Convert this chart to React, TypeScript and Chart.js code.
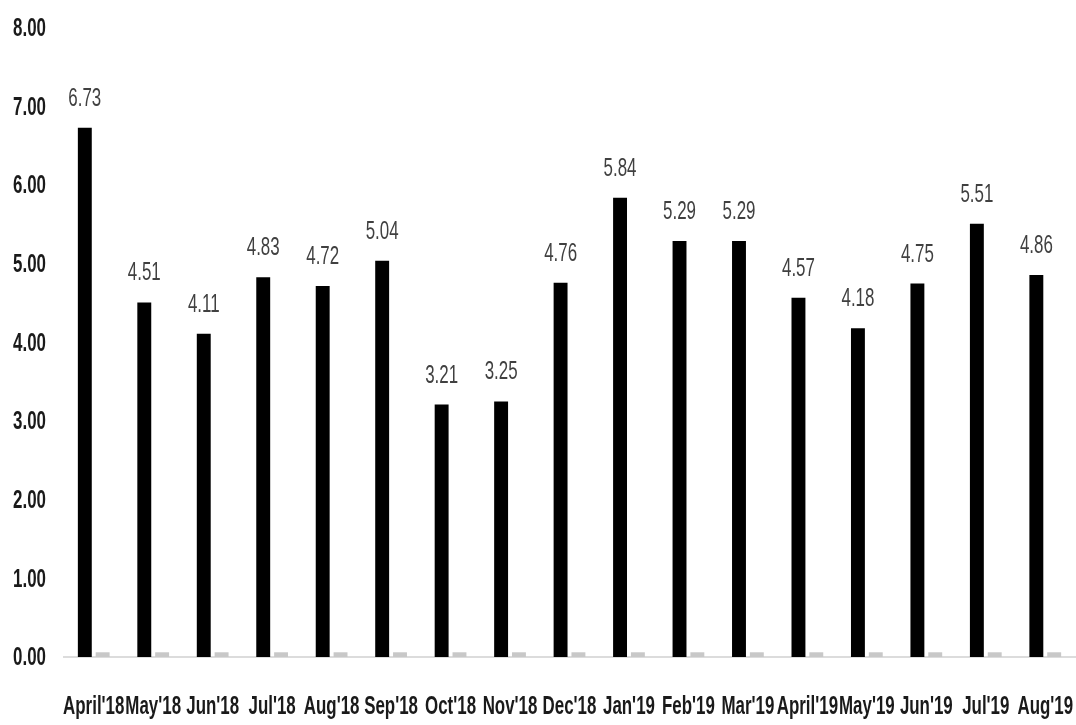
import React, { useEffect, useRef } from "react";
import { Chart, registerables } from "chart.js";

Chart.register(...registerables);

const categories = [
  "April'18", "May'18", "Jun'18", "Jul'18", "Aug'18", "Sep'18", "Oct'18", "Nov'18", "Dec'18",
  "Jan'19", "Feb'19", "Mar'19", "April'19", "May'19", "Jun'19", "Jul'19", "Aug'19",
];
const mainValues = [6.73, 4.51, 4.11, 4.83, 4.72, 5.04, 3.21, 3.25, 4.76, 5.84, 5.29, 5.29, 4.57, 4.18, 4.75, 5.51, 4.86];
const minorValues = [0.06, 0.06, 0.06, 0.06, 0.06, 0.06, 0.06, 0.06, 0.06, 0.06, 0.06, 0.06, 0.06, 0.06, 0.06, 0.06, 0.06];
const yTicks = [0, 1, 2, 3, 4, 5, 6, 7, 8];
const yTickLabels = ["0.00", "1.00", "2.00", "3.00", "4.00", "5.00", "6.00", "7.00", "8.00"];

const FONT = '"Liberation Sans", Arial, sans-serif';
const SQUEEZE = 0.65;

function squeezedText(ctx: any, text: string, x: number, y: number) {
  ctx.save();
  ctx.translate(x, y);
  ctx.scale(SQUEEZE, 1);
  ctx.fillText(text, 0, 0);
  ctx.restore();
}

const textPlugin = {
  id: "squeezedText",
  afterDatasetsDraw(chart: any) {
    const ctx = chart.ctx;
    const xs = chart.scales.x;
    const ys = chart.scales.y;
    ctx.save();
    // y axis labels
    ctx.font = `bold 26px ${FONT}`;
    ctx.fillStyle = "#1a1a1a";
    ctx.textAlign = "right";
    ctx.textBaseline = "middle";
    yTicks.forEach((v, i) => {
      squeezedText(ctx, yTickLabels[i], 46, ys.getPixelForValue(v) + 1);
    });
    // x axis labels
    ctx.textAlign = "center";
    ctx.textBaseline = "alphabetic";
    categories.forEach((c, i) => {
      squeezedText(ctx, c, xs.getPixelForValue(i), 714);
    });
    // data labels
    ctx.font = `normal 26px ${FONT}`;
    ctx.fillStyle = "#404040";
    const meta = chart.getDatasetMeta(0);
    meta.data.forEach((bar: any, i: number) => {
      squeezedText(ctx, mainValues[i].toFixed(2), bar.x, bar.y - 22);
    });
    ctx.restore();
  },
};

export default function App() {
  const ref = useRef<HTMLCanvasElement | null>(null);
  useEffect(() => {
    if (!ref.current) return;
    const chart = new Chart(ref.current, {
      type: "bar",
      data: {
        labels: categories,
        datasets: [
          {
            data: mainValues,
            backgroundColor: "#000000",
            categoryPercentage: 0.6,
            barPercentage: 0.78,
          },
          {
            data: minorValues,
            backgroundColor: "#c8c8c8",
            categoryPercentage: 0.6,
            barPercentage: 0.78,
          },
        ],
      },
      options: {
        animation: false,
        responsive: true,
        maintainAspectRatio: false,
        layout: { padding: { top: 28, right: 1, bottom: 68, left: 0 } },
        plugins: { legend: { display: false }, tooltip: { enabled: false } },
        scales: {
          x: {
            afterFit: (s: any) => { s.height = 0; },
            grid: { display: false, drawTicks: false },
            border: { display: true, color: "#dcdcdc", width: 2 },
            ticks: { display: false },
          },
          y: {
            min: 0,
            max: 8,
            afterFit: (s: any) => { s.width = 64; },
            grid: { display: false, drawTicks: false },
            border: { display: false },
            ticks: { display: false, stepSize: 1 },
          },
        },
      },
      plugins: [textPlugin],
    });
    return () => chart.destroy();
  }, []);
  return (
    <div style={{ position: "absolute", left: 0, top: 0, width: 1076, height: 725, background: "#fff" }}>
      <canvas ref={ref} />
    </div>
  );
}
